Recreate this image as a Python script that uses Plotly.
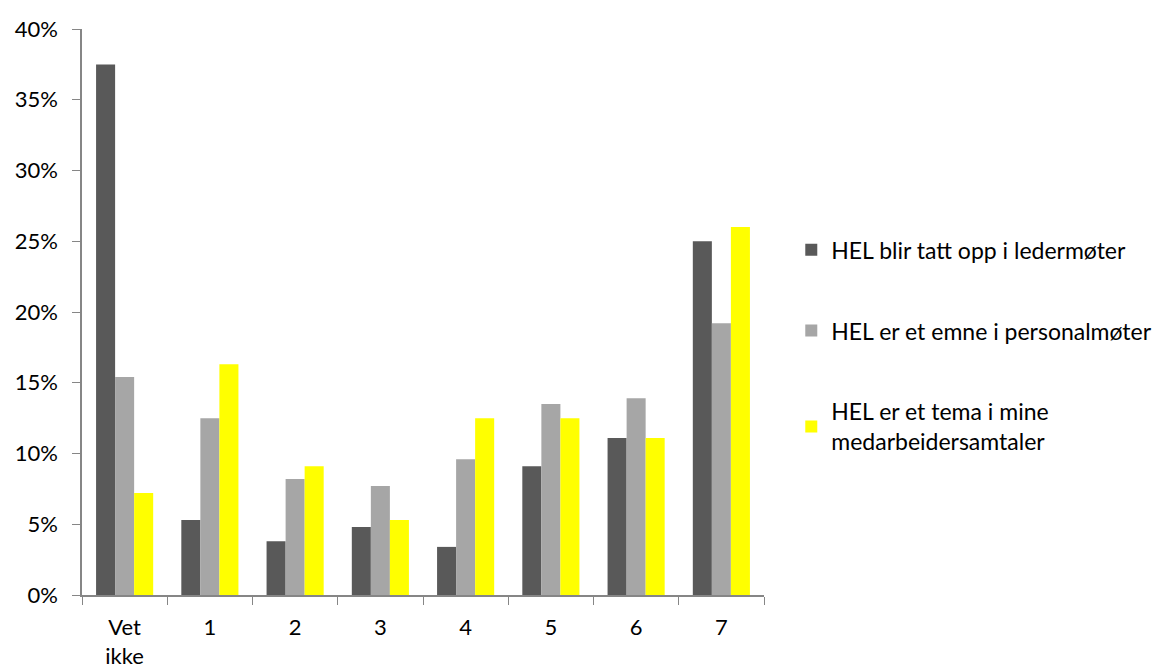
import plotly.graph_objects as go

# Response categories on the x axis
categories = ["Vet<br>ikke", "1", "2", "3", "4", "5", "6", "7"]

# Share of respondents per category, one list per statement
ledermoter = [0.375, 0.053, 0.038, 0.048, 0.034, 0.091, 0.111, 0.250]
personalmoter = [0.154, 0.125, 0.082, 0.077, 0.096, 0.135, 0.139, 0.192]
medarbeidersamtaler = [0.072, 0.163, 0.091, 0.053, 0.125, 0.125, 0.111, 0.260]

series = [
    ("HEL blir tatt opp i ledermøter", ledermoter, "#595959"),
    ("HEL er et emne i personalmøter", personalmoter, "#A6A6A6"),
    ("HEL er et tema i mine<br>medarbeidersamtaler", medarbeidersamtaler, "#FFFF00"),
]

font_family = "Lato, 'Open Sans', sans-serif"
font_size = 22

fig = go.Figure()
for i, (name, values, color) in enumerate(series):
    fig.add_trace(go.Bar(
        x=categories,
        y=values,
        name=name,
        marker=dict(color=color, line=dict(width=0)),
        legendgroup=f"g{i}",
    ))

fig.update_layout(
    width=1176,
    height=670,
    barmode="group",
    bargap=0.33,
    bargroupgap=0,
    plot_bgcolor="white",
    paper_bgcolor="white",
    margin=dict(l=82, r=412, t=29, b=75),
    font=dict(family=font_family, size=font_size, color="#000000"),
    showlegend=True,
    legend=dict(
        x=1.04,
        xanchor="left",
        y=0.648,
        yanchor="top",
        traceorder="grouped",
        tracegroupgap=48,
        font=dict(family=font_family, size=23, color="#000000"),
        itemwidth=30,
        bgcolor="rgba(0,0,0,0)",
    ),
    xaxis=dict(
        type="category",
        automargin=False,
        showline=True,
        linecolor="#868686",
        linewidth=1.5,
        ticks="outside",
        tickson="boundaries",
        ticklen=8,
        tickcolor="#868686",
        showgrid=False,
        ticklabelstandoff=12,
        tickfont=dict(size=font_size),
    ),
    yaxis=dict(
        range=[0, 0.4],
        dtick=0.05,
        tickformat=".0%",
        automargin=False,
        showline=True,
        linecolor="#868686",
        linewidth=1.5,
        ticks="outside",
        ticklen=8,
        tickcolor="#868686",
        showgrid=False,
        zeroline=False,
        ticklabelstandoff=10,
        tickfont=dict(size=font_size),
    ),
)

fig.write_html("out.html")
